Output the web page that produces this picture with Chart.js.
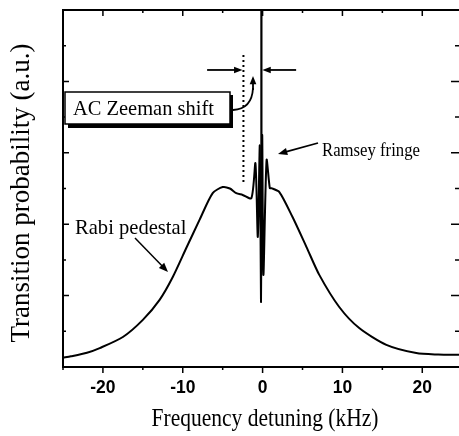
<!DOCTYPE html>
<html>
<head>
<meta charset="utf-8">
<script src="https://cdn.jsdelivr.net/npm/chart.js@4.4.0/dist/chart.umd.min.js"></script>
<style>
  html, body { margin: 0; padding: 0; background: #fff; overflow: hidden; }
</style>
</head>
<body>
<canvas id="chart" width="459" height="436"></canvas>
<script>
// detuning in kHz, probability in arbitrary units (0..10 scale, no labels)
const detuning = [-25, -24, -22, -20.4, -17.5, -15, -12.9, -11.25, -9.5, -7.9, -6.25, -5, -4.1, -3.3, -2.5, -1.4,
  -0.9, -0.6, -0.35, -0.2, -0.05, 0.1, 0.5, 0.9, 1.1, 2.1, 3.75, 5.5, 7.1, 9.6, 12.1, 15.5, 19.25, 22, 24.6];
const probability = [0.26, 0.3, 0.4, 0.53, 0.84, 1.32, 1.88, 2.52, 3.36, 4.12, 4.87, 5.04, 5.0, 4.87, 4.82, 4.73,
  5.71, 3.64, 6.2, 1.82, 6.5, 2.58, 5.8, 5.01, 5.01, 4.9, 4.2, 3.36, 2.58, 1.68, 1.09, 0.62, 0.39, 0.35, 0.34];

const xTicks = [-20, -10, 0, 10, 20];
const xMinorTicks = [-25, -15, -5, 5, 15];
const yTicks = [2, 4, 6, 8];
const yMinorTicks = [1, 3, 5, 7, 9];

// marker lines: shifted centre (solid) and unshifted position (dotted)
const centerLine = { x: -0.15, from: 5.5, to: 10 };
const dottedLine = { x: -2.4, from: 5.18, to: 8.82 };

const serif = '"Liberation Serif", "Times New Roman", serif';

function squeezed(ctx, text, x, y, font, sx, align) {
  ctx.save();
  ctx.font = font;
  ctx.textAlign = align || 'left';
  ctx.textBaseline = 'middle';
  ctx.translate(x, y);
  ctx.scale(sx, 1);
  ctx.fillText(text, 0, 0);
  ctx.restore();
}

function arrow(ctx, x1, y1, x2, y2, head) {
  const a = Math.atan2(y2 - y1, x2 - x1);
  ctx.beginPath();
  ctx.moveTo(x1, y1);
  ctx.lineTo(x2 - Math.cos(a) * head * 0.8, y2 - Math.sin(a) * head * 0.8);
  ctx.stroke();
  ctx.beginPath();
  ctx.moveTo(x2, y2);
  ctx.lineTo(x2 - head * Math.cos(a - 0.38), y2 - head * Math.sin(a - 0.38));
  ctx.lineTo(x2 - head * Math.cos(a + 0.38), y2 - head * Math.sin(a + 0.38));
  ctx.closePath();
  ctx.fill();
}

const decorations = {
  id: 'decorations',
  afterDraw(chart) {
    const ctx = chart.ctx;
    const xs = chart.scales.x, ys = chart.scales.y;
    const { left, right, top, bottom } = chart.chartArea;
    const px = v => xs.getPixelForValue(v);
    const py = v => ys.getPixelForValue(v);

    ctx.save();
    ctx.strokeStyle = '#000';
    ctx.fillStyle = '#000';
    ctx.lineWidth = 2;

    // frame (right edge falls off the picture)
    ctx.beginPath();
    ctx.moveTo(right, top); ctx.lineTo(left, top); ctx.lineTo(left, bottom); ctx.lineTo(right, bottom);
    ctx.stroke();

    // x ticks
    ctx.lineWidth = 1.5;
    ctx.beginPath();
    xTicks.forEach(v => {
      const x = px(v);
      ctx.moveTo(x, bottom); ctx.lineTo(x, bottom + 6);
      ctx.moveTo(x, top); ctx.lineTo(x, top + 6);
    });
    xMinorTicks.forEach(v => {
      const x = px(v);
      ctx.moveTo(x, bottom); ctx.lineTo(x, bottom + 3);
      ctx.moveTo(x, top); ctx.lineTo(x, top + 3);
    });
    // y ticks
    yTicks.forEach(v => {
      const y = py(v);
      ctx.moveTo(left, y); ctx.lineTo(left + 6, y);
      ctx.moveTo(right, y); ctx.lineTo(right - 8, y);
    });
    yMinorTicks.forEach(v => {
      const y = py(v);
      ctx.moveTo(left, y); ctx.lineTo(left + 3, y);
      ctx.moveTo(right, y); ctx.lineTo(right - 4, y);
    });
    ctx.stroke();

    // tick labels
    xTicks.forEach(v => {
      squeezed(ctx, String(v), px(v), 388, 'bold 19px "Liberation Sans", Arial, sans-serif', 0.92, 'center');
    });

    // axis titles
    squeezed(ctx, 'Frequency detuning (kHz)', 265, 419, '25px ' + serif, 0.86, 'center');
    ctx.save();
    ctx.translate(22, 193);
    ctx.rotate(-Math.PI / 2);
    squeezed(ctx, 'Transition probability (a.u.)', 0, 0, '27px ' + serif, 1.0, 'center');
    ctx.restore();

    // AC Zeeman shift box with shadow
    const bx = px(-24.75), by = 92, bw = 230 - bx, bh = 32;
    ctx.fillRect(bx + 3, by + bh, bw, 4);
    ctx.fillRect(bx + bw, by + 3, 3, bh + 1);
    ctx.fillStyle = '#fff';
    ctx.fillRect(bx, by, bw, bh);
    ctx.fillStyle = '#000';
    ctx.lineWidth = 1.5;
    ctx.strokeRect(bx, by, bw, bh);
    squeezed(ctx, 'AC Zeeman shift', bx + 8, by + bh / 2 + 1, '22px ' + serif, 0.93, 'left');

    // curved arrow from the box towards the shifted centre
    ctx.lineWidth = 1.8;
    ctx.beginPath();
    ctx.moveTo(bx + bw + 3, 110);
    ctx.quadraticCurveTo(252, 109, 253, 88);
    ctx.stroke();
    arrow(ctx, 253, 90, 253, 76, 9);

    // shift arrows
    const ay = py(8.32);
    arrow(ctx, px(-6.95), ay, px(dottedLine.x) - 1, ay, 9);
    arrow(ctx, px(4.2), ay, px(centerLine.x) + 1, ay, 9);

    // Ramsey fringe label
    squeezed(ctx, 'Ramsey fringe', 322, 151, '19px ' + serif, 0.88, 'left');
    arrow(ctx, 318, 143, 278, 154, 10);

    // Rabi pedestal label
    squeezed(ctx, 'Rabi pedestal', 75, 228, '21px ' + serif, 0.98, 'left');
    ctx.lineWidth = 1.5;
    arrow(ctx, 135, 238, 168, 272, 10);

    ctx.restore();
  }
};

new Chart(document.getElementById('chart'), {
  type: 'line',
  data: {
    datasets: [
      {
        label: 'Transition probability',
        data: detuning.map((x, i) => ({ x: x, y: probability[i] })),
        borderColor: '#000',
        borderWidth: 2,
        pointRadius: 0,
        tension: 0.25
      },
      {
        label: 'centre',
        data: [{ x: centerLine.x, y: centerLine.from }, { x: centerLine.x, y: centerLine.to }],
        borderColor: '#000',
        borderWidth: 2.2,
        pointRadius: 0
      },
      {
        label: 'unshifted',
        data: [{ x: dottedLine.x, y: dottedLine.from }, { x: dottedLine.x, y: dottedLine.to }],
        borderColor: '#000',
        borderWidth: 2,
        borderDash: [2, 3],
        pointRadius: 0
      }
    ]
  },
  options: {
    responsive: false,
    animation: false,
    layout: { padding: { left: 63, top: 10, right: 0, bottom: 69 } },
    plugins: { legend: { display: false }, tooltip: { enabled: false } },
    scales: {
      x: { type: 'linear', min: -25, max: 24.6, display: false },
      y: { type: 'linear', min: 0, max: 10, display: false }
    }
  },
  plugins: [decorations]
});
</script>
</body>
</html>
